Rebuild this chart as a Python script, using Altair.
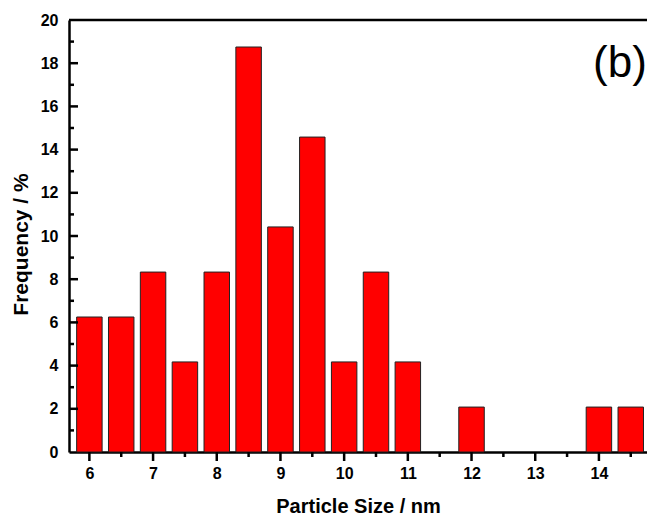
import altair as alt
import pandas as pd

# Histogram of particle sizes (bin centres in nm, frequency in %)
sizes = [6.0, 6.5, 7.0, 7.5, 8.0, 8.5, 9.0, 9.5, 10.0, 10.5, 11.0, 11.5, 12.0, 12.5, 13.0, 13.5, 14.0, 14.5]
freq = [6.25, 6.25, 8.33, 4.17, 8.33, 18.75, 10.42, 14.58, 4.17, 8.33, 4.17, 0.0, 2.08, 0.0, 0.0, 0.0, 2.08, 2.08]
bar_width = 0.4

x_major = [6, 7, 8, 9, 10, 11, 12, 13, 14]
x_minor = [6.5, 7.5, 8.5, 9.5, 10.5, 11.5, 12.5, 13.5, 14.5]
y_major = [2, 4, 6, 8, 10, 12, 14, 16, 18]
y_minor = [1, 3, 5, 7, 9, 11, 13, 15, 17, 19]
x_domain = [5.68, 14.755]
y_domain = [0, 20]

W, H = 578, 432
FONT = "Liberation Sans"

bars_df = pd.DataFrame({"size": sizes, "freq": freq})
bars_df = bars_df[bars_df["freq"] > 0]

xs = alt.Scale(domain=x_domain, nice=False, zero=False)
ys = alt.Scale(domain=y_domain, nice=False)

bars = alt.Chart(bars_df).transform_calculate(
    x0=f"datum.size - {bar_width / 2}", x1=f"datum.size + {bar_width / 2}"
).mark_rect(color="#ff0000", stroke="#222222", strokeWidth=1).encode(
    x=alt.X("x0:Q", scale=xs, axis=alt.Axis(
        values=x_major, format="d", ticks=False, tickSize=0, grid=False,
        domainColor="black", domainWidth=2.5,
        labelFont=FONT, labelFontSize=16, labelFontWeight="bold", labelColor="black",
        labelPadding=13,
        title="Particle Size / nm", titleFont=FONT, titleFontSize=20,
        titleFontWeight="bold", titleColor="black",
        titleY=60, titleBaseline="alphabetic")),
    x2="x1:Q",
    y=alt.Y("freq:Q", scale=ys, axis=alt.Axis(
        values=list(range(0, 21, 2)), format="d", ticks=False, tickSize=0, grid=False,
        domainColor="black", domainWidth=2.5,
        labelFont=FONT, labelFontSize=16, labelFontWeight="bold", labelColor="black",
        labelPadding=11,
        title="Frequency / %", titleFont=FONT, titleFontSize=21,
        titleFontWeight="bold", titleColor="black",
        titleX=-42, titleY=H / 2 + 8, titleBaseline="alphabetic", titleAlign="center")),
    y2=alt.datum(0),
)

# Tick marks: x ticks point outward, y ticks point into the plot
xmaj = alt.Chart(pd.DataFrame({"v": x_major})).mark_rule(color="black", strokeWidth=2.5).encode(
    x=alt.X("v:Q", scale=xs), y=alt.value(H), y2=alt.value(H + 9))
xmin = alt.Chart(pd.DataFrame({"v": x_minor})).mark_rule(color="black", strokeWidth=2.5).encode(
    x=alt.X("v:Q", scale=xs), y=alt.value(H), y2=alt.value(H + 5))
ymaj = alt.Chart(pd.DataFrame({"v": y_major})).mark_rule(color="black", strokeWidth=2.5).encode(
    y=alt.Y("v:Q", scale=ys), x=alt.value(0), x2=alt.value(9))
ymin = alt.Chart(pd.DataFrame({"v": y_minor})).mark_rule(color="black", strokeWidth=2.5).encode(
    y=alt.Y("v:Q", scale=ys), x=alt.value(0), x2=alt.value(5))

# Top frame line
top = alt.Chart(pd.DataFrame({"v": [20]})).mark_rule(color="black", strokeWidth=2.5).encode(
    y=alt.Y("v:Q", scale=ys), x=alt.value(0), x2=alt.value(W))

panel = alt.Chart(pd.DataFrame({"t": ["(b)"], "x": [14.33], "y": [17.95]})).mark_text(
    font=FONT, fontSize=44, color="black", align="center", baseline="middle"
).encode(x=alt.X("x:Q", scale=xs), y=alt.Y("y:Q", scale=ys), text="t:N")

chart = alt.layer(bars, xmaj, xmin, ymaj, ymin, top, panel).properties(
    width=W, height=H,
    autosize=alt.AutoSizeParams(type="none"),
    padding={"left": 69, "top": 20, "right": 0, "bottom": 64},
).configure_view(stroke=None).configure(background="white")

chart.save("out.html", embed_options={"renderer": "svg", "actions": False})
